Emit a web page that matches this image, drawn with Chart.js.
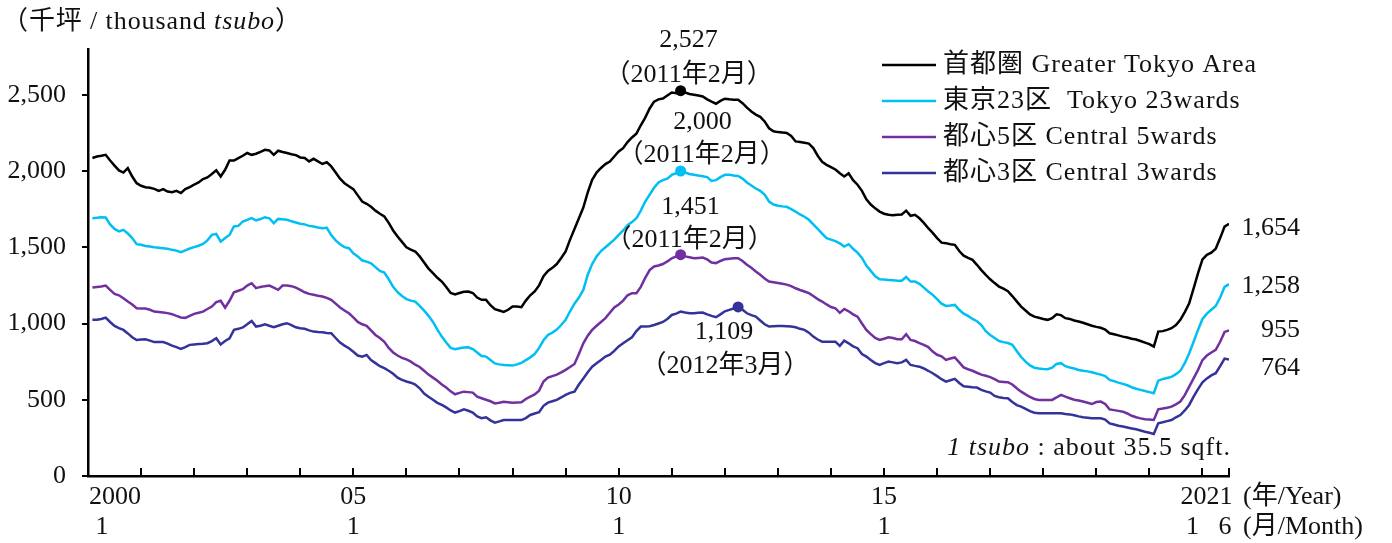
<!DOCTYPE html>
<html>
<head>
<meta charset="utf-8">
<title>Office vacancy stock</title>
<script src="https://cdn.jsdelivr.net/npm/chart.js@4.4.1/dist/chart.umd.min.js"></script>
<style>
  html, body { margin: 0; padding: 0; background: #fff; }
  canvas { display: block; }
</style>
</head>
<body>
<canvas id="chart" width="1392" height="543"></canvas>
<script>
// Monthly values, Jan 2000 - Jun 2021 (thousand tsubo)
const greaterTokyo = [
  2085, 2095, 2100, 2106, 2069, 2035, 2004, 1990, 2019, 1964, 1920, 1903,
  1894, 1890, 1883, 1870, 1881, 1865, 1861, 1870, 1855, 1881, 1895, 1910,
  1925, 1947, 1958, 1980, 2004, 1964, 2008, 2069, 2069, 2085, 2100, 2118,
  2106, 2113, 2125, 2139, 2135, 2106, 2133, 2125, 2118, 2110, 2104, 2089,
  2085, 2063, 2080, 2063, 2046, 2057, 2030, 1990, 1950, 1920, 1900, 1881,
  1840, 1800, 1785, 1765, 1740, 1720, 1702, 1660, 1610, 1570, 1535, 1500,
  1485, 1472, 1440, 1400, 1360, 1330, 1300, 1275, 1240, 1200, 1190, 1200,
  1208, 1210, 1200, 1170, 1155, 1155, 1120, 1094, 1085, 1076, 1090, 1111,
  1111, 1107, 1150, 1185, 1210, 1250, 1310, 1345, 1365, 1390, 1430, 1472,
  1550, 1620, 1690, 1760, 1860, 1942, 1990, 2020, 2045, 2062, 2095, 2128,
  2150, 2190, 2220, 2245, 2300, 2350, 2410, 2455, 2470, 2475, 2495, 2515,
  2510, 2527, 2515, 2505, 2500, 2495, 2489, 2470, 2455, 2441, 2460, 2474,
  2470, 2468, 2467, 2445, 2415, 2390, 2370, 2355, 2325, 2280, 2260, 2255,
  2252, 2249, 2230, 2194, 2190, 2185, 2180, 2150, 2100, 2060, 2040, 2025,
  2010, 1985, 1964, 1985, 1940, 1910, 1870, 1815, 1780, 1755, 1734, 1720,
  1713, 1710, 1713, 1715, 1740, 1706, 1713, 1690, 1660, 1625, 1594, 1560,
  1530, 1527, 1520, 1516, 1475, 1445, 1430, 1417, 1385, 1350, 1319, 1290,
  1265, 1242, 1228, 1212, 1180, 1145, 1111, 1085, 1060, 1045, 1038, 1030,
  1024, 1035, 1060, 1055, 1035, 1030, 1020, 1013, 1005, 995, 985, 978,
  972, 960, 936, 930, 922, 914, 908, 900, 895, 885, 875, 865,
  848, 947, 950, 958, 969, 990, 1024, 1075, 1133, 1230, 1330, 1420,
  1450, 1465, 1490, 1560, 1635, 1654
];
const tokyo23 = [
  1690, 1693, 1697, 1695, 1650, 1620, 1604, 1614, 1590, 1560, 1520, 1516,
  1508, 1505, 1500, 1497, 1494, 1490, 1483, 1478, 1468, 1480, 1492, 1501,
  1510, 1522, 1545, 1581, 1587, 1537, 1560, 1581, 1636, 1640, 1669, 1680,
  1691, 1676, 1685, 1697, 1690, 1658, 1686, 1684, 1680, 1670, 1662, 1654,
  1650, 1640, 1636, 1630, 1625, 1628, 1580, 1545, 1520, 1501, 1494, 1460,
  1440, 1413, 1406, 1395, 1370, 1345, 1334, 1290, 1240, 1205, 1180, 1160,
  1150, 1144, 1115, 1085, 1050, 1010, 960, 914, 875, 840, 831, 838,
  842, 844, 832, 810, 787, 783, 760, 738, 732, 728, 726, 724,
  732, 742, 760, 778, 800, 840, 890, 925, 940, 960, 990, 1024,
  1080, 1130, 1170, 1220, 1320, 1390, 1440, 1475, 1500, 1525, 1550, 1581,
  1610, 1645, 1665, 1690, 1740, 1800, 1845, 1890, 1925, 1940, 1950, 1975,
  1985, 2000, 1990, 1980, 1975, 1970, 1966, 1960, 1935, 1940, 1960, 1975,
  1975, 1970, 1968, 1950, 1925, 1905, 1885, 1870, 1845, 1800, 1780, 1772,
  1768, 1765, 1750, 1734, 1715, 1700, 1680, 1650, 1620, 1590, 1560, 1550,
  1540, 1525, 1505, 1520, 1490, 1465, 1430, 1380, 1345, 1310, 1290, 1288,
  1286, 1283, 1280, 1280, 1305, 1275, 1275, 1260, 1235, 1210, 1188, 1160,
  1130, 1115, 1118, 1122, 1090, 1065, 1050, 1030, 1015, 990, 950, 925,
  905, 885, 878, 872, 860, 820, 780, 750, 725, 710, 705, 702,
  700, 710, 735, 740, 720, 712, 705, 695, 690, 686, 680, 672,
  665, 655, 630, 622, 612, 604, 595, 582, 572, 565, 557, 550,
  543, 625, 635, 643, 650, 668, 690, 740, 805, 880, 958, 1030,
  1065, 1090, 1115, 1170, 1240, 1258
];
const central5 = [
  1236, 1240, 1243, 1249, 1220, 1194, 1185, 1166, 1144, 1125, 1100, 1099,
  1098, 1090, 1078, 1075, 1072, 1068, 1061, 1050, 1040, 1037, 1050, 1063,
  1070, 1078, 1095, 1111, 1140, 1149, 1104, 1149, 1205, 1215, 1225, 1249,
  1264, 1232, 1240, 1245, 1249, 1235, 1221, 1249, 1249, 1245, 1235, 1220,
  1205, 1194, 1188, 1182, 1177, 1168, 1155, 1130, 1105, 1085, 1067, 1040,
  1010, 995, 985, 955, 925, 905, 880, 840, 810, 790, 775, 765,
  750, 730, 715, 690, 665, 645, 625, 600, 580, 555, 536, 545,
  553, 550, 547, 520, 510, 500, 490, 476, 480, 487, 484, 481,
  482, 483, 505, 520, 535, 560, 620, 645, 655, 665, 680, 696,
  715, 735, 800, 870, 920, 958, 985, 1010, 1035, 1070, 1105, 1125,
  1150, 1185, 1199, 1199, 1240, 1300, 1350, 1374, 1380, 1390, 1407, 1428,
  1440, 1451, 1440, 1435, 1428, 1430, 1432, 1420, 1400, 1396, 1410, 1422,
  1425, 1428, 1428, 1410, 1385, 1365, 1341, 1320, 1295, 1275, 1270, 1265,
  1260, 1255, 1245, 1231, 1220, 1210, 1199, 1180, 1160, 1144, 1125, 1108,
  1100, 1070, 1095, 1080, 1060, 1045, 1000, 958, 930, 905, 892, 900,
  909, 905, 897, 897, 930, 892, 885, 871, 860, 845, 816, 795,
  785, 761, 770, 777, 745, 712, 700, 690, 677, 665, 657, 648,
  635, 619, 617, 615, 600, 575, 553, 535, 518, 505, 499, 499,
  499, 499, 515, 532, 520, 510, 500, 495, 488, 480, 472, 485,
  488, 472, 437, 432, 427, 422, 410, 395, 385, 378, 372, 370,
  367, 437, 442, 448, 455, 470, 488, 530, 586, 640, 696, 760,
  790, 810, 827, 880, 945, 955
];
const central3 = [
  1024, 1024, 1030, 1039, 1010, 984, 970, 958, 935, 910, 892, 895,
  897, 888, 878, 878, 878, 868, 855, 845, 833, 845, 860, 863,
  866, 868, 871, 885, 903, 862, 885, 903, 958, 965, 974, 995,
  1017, 980, 985, 995, 985, 976, 985, 995, 1002, 990, 975, 969,
  965, 955, 947, 944, 942, 938, 936, 905, 875, 855, 838, 815,
  790, 783, 794, 760, 740, 720, 707, 690, 670, 645, 630, 620,
  612, 600, 575, 540, 520, 500, 480, 466, 450, 430, 416, 425,
  437, 428, 416, 390, 379, 385, 365, 350, 358, 367, 367, 367,
  367, 367, 380, 400, 410, 418, 460, 481, 490, 499, 515, 532,
  545, 553, 600, 640, 680, 717, 740, 760, 783, 795, 820, 850,
  871, 890, 910, 950, 980, 980, 982, 990, 1000, 1010, 1030, 1056,
  1065, 1078, 1072, 1067, 1067, 1070, 1072, 1060, 1050, 1041, 1060, 1080,
  1089, 1098, 1109, 1090, 1067, 1055, 1045, 1020, 995, 980, 982, 984,
  984, 982, 980, 975, 965, 958, 940, 914, 895, 881, 881, 881,
  881, 853, 887, 870, 850, 838, 800, 783, 760, 740, 728, 740,
  750, 745, 739, 745, 761, 728, 722, 717, 705, 690, 674, 655,
  635, 619, 628, 637, 610, 588, 585, 582, 580, 565, 555, 547,
  525, 516, 512, 510, 485, 465, 455, 440, 425, 415, 411, 411,
  411, 411, 411, 411, 406, 404, 398, 391, 385, 382, 378, 378,
  378, 370, 345, 338, 330, 324, 318, 312, 306, 298, 290, 284,
  276, 345, 352, 360, 367, 385, 400, 430, 466, 520, 570, 615,
  640, 660, 674, 720, 770, 764
];

const seriesNames = [
  '首都圏 Greater Tokyo Area',
  '東京23区  Tokyo 23wards',
  '都心5区 Central 5wards',
  '都心3区 Central 3wards'
];
const seriesColors = ['#000000', '#00BFF3', '#7030A0', '#333399'];

const yTickValues = [0, 500, 1000, 1500, 2000, 2500];
// [year text, index of first month]
const xYearLabels = [['2000', 0], ['05', 60], ['10', 120], ['15', 180], ['2021', 252]];
const xMonthLabels = [['1', 0], ['1', 60], ['1', 120], ['1', 180], ['1', 252], ['6', 257]];

// categories: Jan 2000 .. Jun 2021
const categories = [];
for (let yr = 2000; yr <= 2021; yr++) {
  for (let mo = 1; mo <= 12; mo++) {
    if (yr === 2021 && mo > 6) break;
    categories.push(yr + '年' + mo + '月');
  }
}

const FONT = '"Liberation Serif", "Noto Sans CJK JP", serif';
const TEXT = '#111';

// style: offsets of the peak annotations from the peak point
const peakOffsets = [
  { v: [8, -50], d: [8, -15] },
  { v: [22, -49], d: [21, -16] },
  { v: [10, -48], d: [9, -15] },
  { v: [-14, 25], d: [-13, 59] }
];
const endLabelDy = [4, 2, 0, 9];

const peakIndex = arr => arr.indexOf(Math.max(...arr));
const allSeries = [greaterTokyo, tokyo23, central5, central3];

function drawMixed(ctx, parts, x, y, align, spacing) {
  // parts: [text, italic]
  ctx.letterSpacing = spacing || '0px';
  let total = 0;
  parts.forEach(p => {
    ctx.font = (p[1] ? 'italic ' : '') + '26px ' + FONT;
    total += ctx.measureText(p[0]).width;
  });
  let cx = align === 'right' ? x - total : x;
  ctx.textAlign = 'left';
  parts.forEach(p => {
    ctx.font = (p[1] ? 'italic ' : '') + '26px ' + FONT;
    ctx.fillText(p[0], cx, y);
    cx += ctx.measureText(p[0]).width;
  });
  ctx.letterSpacing = '0px';
}

const decorPlugin = {
  id: 'decor',
  afterDraw(chart) {
    const { ctx, chartArea } = chart;
    const x = chart.scales.x, y = chart.scales.y;
    ctx.save();

    // inward tick marks on the x axis, one per year and one at the end
    ctx.strokeStyle = '#000';
    ctx.lineWidth = 2;
    const tickIdx = [];
    for (let i = 0; i < categories.length; i += 12) tickIdx.push(i - 1);
    tickIdx.push(categories.length - 1);
    tickIdx.forEach(v => {
      const px = Math.round(x.getPixelForValue(v));
      ctx.beginPath();
      ctx.moveTo(px, chartArea.bottom);
      ctx.lineTo(px, chartArea.bottom - 8);
      ctx.stroke();
    });

    ctx.fillStyle = TEXT;
    ctx.textBaseline = 'middle';
    ctx.font = '26px ' + FONT;

    // x labels
    xYearLabels.forEach(([t, i]) => {
      const px = x.getPixelForValue(i - 1);
      if (i === 0) { ctx.textAlign = 'left'; ctx.fillText(t, px + 1, 497); }
      else { ctx.textAlign = 'center'; ctx.fillText(t, px + (t.length === 4 ? 4 : 0), 497); }
    });
    xMonthLabels.forEach(([t, i], k) => {
      ctx.textAlign = 'center';
      let px;
      if (k === xMonthLabels.length - 1) px = x.getPixelForValue(i) - 4;
      else if (i === 0) px = x.getPixelForValue(i - 1) + 14;
      else if (i === 252) px = x.getPixelForValue(i - 1) - 10;
      else px = x.getPixelForValue(i - 1);
      ctx.fillText(t, px, 527);
    });
    ctx.textAlign = 'left';
    ctx.fillText('(年/Year)', 1243, 497);
    ctx.fillText('(月/Month)', 1243, 527);

    // title
    drawMixed(ctx, [['（千坪 / thousand ', false], ['tsubo', true], ['）', false]], 2, 22, 'left', '0.9px');

    // note
    drawMixed(ctx, [['1 tsubo', true], [' : about 35.5 sqft.', false]], 1231, 448, 'right', '1px');

    // legend
    seriesNames.forEach((name, k) => {
      const ly = 65 + k * 36;
      ctx.strokeStyle = seriesColors[k];
      ctx.lineWidth = 2.5;
      ctx.beginPath();
      ctx.moveTo(882, ly);
      ctx.lineTo(936, ly);
      ctx.stroke();
      ctx.font = '26px ' + FONT;
      ctx.textAlign = 'left';
      ctx.letterSpacing = '1px';
      ctx.fillText(name, 943, ly);
      ctx.letterSpacing = '0px';
    });

    // peak annotations and last values
    allSeries.forEach((s, k) => {
      const pi = peakIndex(s);
      const px = x.getPixelForValue(pi);
      const py = y.getPixelForValue(s[pi]);
      const off = peakOffsets[k];
      ctx.font = '26px ' + FONT;
      ctx.textAlign = 'center';
      ctx.fillText(s[pi].toLocaleString('en-US'), px + off.v[0], py + off.v[1]);
      ctx.fillText('（' + categories[pi] + '）', px + off.d[0], py + off.d[1]);

      const last = s[s.length - 1];
      ctx.textAlign = 'right';
      ctx.fillText(last.toLocaleString('en-US'), 1300, y.getPixelForValue(last) + endLabelDy[k]);
    });

    ctx.restore();
  }
};

const datasets = allSeries.map((s, k) => {
  const pi = peakIndex(s);
  return {
    label: seriesNames[k],
    data: s.map((v, i) => ({ x: i, y: v })),
    borderColor: seriesColors[k],
    backgroundColor: seriesColors[k],
    borderWidth: 2.5,
    tension: 0,
    fill: false,
    pointRadius: ctx => (ctx.dataIndex === pi ? 5.5 : 0),
    pointBackgroundColor: seriesColors[k],
    pointBorderWidth: 0,
    pointHoverRadius: 0
  };
});

new Chart(document.getElementById('chart').getContext('2d'), {
  type: 'line',
  data: { datasets: datasets },
  options: {
    responsive: false,
    devicePixelRatio: 1,
    animation: false,
    events: [],
    layout: { padding: { top: 49, right: 163, left: 0, bottom: 0 } },
    plugins: { legend: { display: false }, tooltip: { enabled: false } },
    scales: {
      x: {
        type: 'linear',
        min: -1,
        max: categories.length - 1,
        grid: { display: false },
        ticks: { display: false },
        border: { display: true, color: '#000', width: 2.5 },
        afterFit: s => { s.height = 67; }
      },
      y: {
        min: 0,
        max: 2800,
        afterBuildTicks: s => { s.ticks = yTickValues.map(v => ({ value: v })); },
        grid: { drawOnChartArea: false, drawTicks: true, tickLength: 6, color: '#000', lineWidth: 2 },
        border: { display: true, color: '#000', width: 2.5 },
        ticks: {
          padding: 16,
          color: TEXT,
          font: { family: FONT, size: 26 },
          callback: v => Number(v).toLocaleString('en-US')
        },
        afterFit: s => { s.width = 88; }
      }
    }
  },
  plugins: [decorPlugin]
});
</script>
</body>
</html>
